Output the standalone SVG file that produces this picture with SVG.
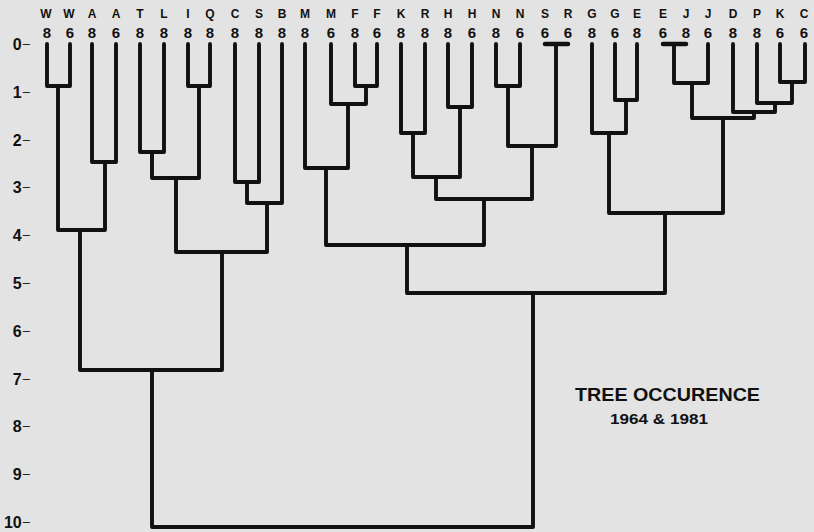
<svg xmlns="http://www.w3.org/2000/svg" width="814" height="532" viewBox="0 0 814 532">
<style>
.bg{fill:#e3e3e3}
.ln{fill:none;stroke:#111;stroke-width:3.9;stroke-linejoin:round;stroke-linecap:round}
.bar{fill:none;stroke:#111;stroke-width:4.5;stroke-linecap:round}
.sp{font-family:"Liberation Sans",Arial,sans-serif;font-weight:bold;font-size:12px;fill:#111;text-anchor:middle}
.yr{font-family:"Liberation Sans",Arial,sans-serif;font-weight:bold;font-size:15px;fill:#111;text-anchor:middle}
.ax{font-family:"Liberation Sans",Arial,sans-serif;font-weight:bold;font-size:16px;fill:#111;text-anchor:end}
.ax tspan{font-weight:normal;font-size:13px}
.ttl{font-family:"Liberation Sans",Arial,sans-serif;font-weight:bold;fill:#111}
</style>
<rect class="bg" x="0" y="0" width="814" height="532"/>
<g id="axis">
<text class="ax" x="30" y="50">0<tspan dx="1" dy="-2.5">–</tspan></text>
<text class="ax" x="30" y="98">1<tspan dx="1" dy="-2.5">–</tspan></text>
<text class="ax" x="30" y="146">2<tspan dx="1" dy="-2.5">–</tspan></text>
<text class="ax" x="30" y="193">3<tspan dx="1" dy="-2.5">–</tspan></text>
<text class="ax" x="30" y="241">4<tspan dx="1" dy="-2.5">–</tspan></text>
<text class="ax" x="30" y="289">5<tspan dx="1" dy="-2.5">–</tspan></text>
<text class="ax" x="30" y="337">6<tspan dx="1" dy="-2.5">–</tspan></text>
<text class="ax" x="30" y="385">7<tspan dx="1" dy="-2.5">–</tspan></text>
<text class="ax" x="30" y="432">8<tspan dx="1" dy="-2.5">–</tspan></text>
<text class="ax" x="30" y="480">9<tspan dx="1" dy="-2.5">–</tspan></text>
<text class="ax" x="30" y="528">10<tspan dx="1" dy="-2.5">–</tspan></text>
</g>
<g id="leaf-W8"><text class="sp" x="46" y="18">W</text><text class="yr" x="47" y="38">8</text></g>
<g id="leaf-W6"><text class="sp" x="69" y="18">W</text><text class="yr" x="70" y="38">6</text></g>
<g id="leaf-A8"><text class="sp" x="92" y="18">A</text><text class="yr" x="92" y="38">8</text></g>
<g id="leaf-A6"><text class="sp" x="116" y="18">A</text><text class="yr" x="116" y="38">6</text></g>
<g id="leaf-T8"><text class="sp" x="140" y="18">T</text><text class="yr" x="140" y="38">8</text></g>
<g id="leaf-L8"><text class="sp" x="164" y="18">L</text><text class="yr" x="164" y="38">8</text></g>
<g id="leaf-I8"><text class="sp" x="188" y="18">I</text><text class="yr" x="188" y="38">8</text></g>
<g id="leaf-Q8"><text class="sp" x="210" y="18">Q</text><text class="yr" x="210" y="38">8</text></g>
<g id="leaf-C8"><text class="sp" x="235" y="18">C</text><text class="yr" x="235" y="38">8</text></g>
<g id="leaf-S8"><text class="sp" x="259" y="18">S</text><text class="yr" x="259" y="38">8</text></g>
<g id="leaf-B8"><text class="sp" x="282" y="18">B</text><text class="yr" x="282" y="38">8</text></g>
<g id="leaf-M8"><text class="sp" x="305" y="18">M</text><text class="yr" x="305" y="38">8</text></g>
<g id="leaf-M6"><text class="sp" x="331" y="18">M</text><text class="yr" x="331" y="38">6</text></g>
<g id="leaf-F8"><text class="sp" x="355" y="18">F</text><text class="yr" x="355" y="38">8</text></g>
<g id="leaf-F6"><text class="sp" x="377" y="18">F</text><text class="yr" x="377" y="38">6</text></g>
<g id="leaf-K8"><text class="sp" x="401" y="18">K</text><text class="yr" x="401" y="38">8</text></g>
<g id="leaf-R8"><text class="sp" x="425" y="18">R</text><text class="yr" x="425" y="38">8</text></g>
<g id="leaf-H8"><text class="sp" x="448" y="18">H</text><text class="yr" x="448" y="38">8</text></g>
<g id="leaf-H6"><text class="sp" x="472" y="18">H</text><text class="yr" x="472" y="38">6</text></g>
<g id="leaf-N8"><text class="sp" x="496" y="18">N</text><text class="yr" x="496" y="38">8</text></g>
<g id="leaf-N6"><text class="sp" x="520" y="18">N</text><text class="yr" x="520" y="38">6</text></g>
<g id="leaf-S6"><text class="sp" x="545" y="18">S</text><text class="yr" x="545" y="38">6</text></g>
<g id="leaf-R6"><text class="sp" x="568" y="18">R</text><text class="yr" x="568" y="38">6</text></g>
<g id="leaf-G8"><text class="sp" x="592" y="18">G</text><text class="yr" x="592" y="38">8</text></g>
<g id="leaf-G6"><text class="sp" x="615" y="18">G</text><text class="yr" x="615" y="38">6</text></g>
<g id="leaf-E8"><text class="sp" x="637" y="18">E</text><text class="yr" x="637" y="38">8</text></g>
<g id="leaf-E6"><text class="sp" x="663" y="18">E</text><text class="yr" x="663" y="38">6</text></g>
<g id="leaf-J8"><text class="sp" x="686" y="18">J</text><text class="yr" x="686" y="38">8</text></g>
<g id="leaf-J6"><text class="sp" x="708" y="18">J</text><text class="yr" x="708" y="38">6</text></g>
<g id="leaf-D8"><text class="sp" x="733" y="18">D</text><text class="yr" x="733" y="38">8</text></g>
<g id="leaf-P8"><text class="sp" x="757" y="18">P</text><text class="yr" x="757" y="38">8</text></g>
<g id="leaf-K6"><text class="sp" x="780" y="18">K</text><text class="yr" x="780" y="38">6</text></g>
<g id="leaf-C6"><text class="sp" x="804" y="18">C</text><text class="yr" x="804" y="38">6</text></g>
<g id="connectors">
<path class="ln" d="M47,44 V86 H70 V44"/>
<path class="ln" d="M92,44 V162 H116 V44"/>
<path class="ln" d="M58,86 V230 H105 V162"/>
<path class="ln" d="M140,44 V152 H164 V44"/>
<path class="ln" d="M188,44 V86 H210 V44"/>
<path class="ln" d="M152,152 V178 H199 V86"/>
<path class="ln" d="M235,44 V182 H259 V44"/>
<path class="ln" d="M247,182 V203 H282 V44"/>
<path class="ln" d="M176,178 V252 H267 V203"/>
<path class="ln" d="M80,230 V370 H222 V252"/>
<path class="ln" d="M355,44 V86 H377 V44"/>
<path class="ln" d="M331,44 V104 H366 V86"/>
<path class="ln" d="M305,44 V168 H348 V104"/>
<path class="ln" d="M401,44 V133 H425 V44"/>
<path class="ln" d="M448,44 V107 H472 V44"/>
<path class="ln" d="M413,133 V177 H460 V107"/>
<path class="ln" d="M496,44 V86 H520 V44"/>
<path class="bar" d="M545,44 H568"/>
<path class="ln" d="M508,86 V146 H556 V44"/>
<path class="ln" d="M436,177 V199 H532 V146"/>
<path class="ln" d="M326,168 V245 H484 V199"/>
<path class="ln" d="M615,44 V100 H637 V44"/>
<path class="ln" d="M592,44 V133 H626 V100"/>
<path class="bar" d="M663,44 H686"/>
<path class="ln" d="M674,44 V83 H708 V44"/>
<path class="ln" d="M780,44 V82 H805 V44"/>
<path class="ln" d="M757,44 V103 H792 V82"/>
<path class="ln" d="M733,44 V112 H775 V103"/>
<path class="ln" d="M692,83 V118 H754 V112"/>
<path class="ln" d="M609,133 V213 H723 V118"/>
<path class="ln" d="M407,245 V293 H665 V213"/>
<path class="ln" d="M152,370 V527 H533 V293"/>
</g>
<g id="title">
<text class="ttl" x="575" y="401" font-size="19" textLength="185" lengthAdjust="spacingAndGlyphs">TREE OCCURENCE</text>
<text class="ttl" x="610" y="424" font-size="15.5" textLength="98" lengthAdjust="spacingAndGlyphs">1964 &amp; 1981</text>
</g>
</svg>
